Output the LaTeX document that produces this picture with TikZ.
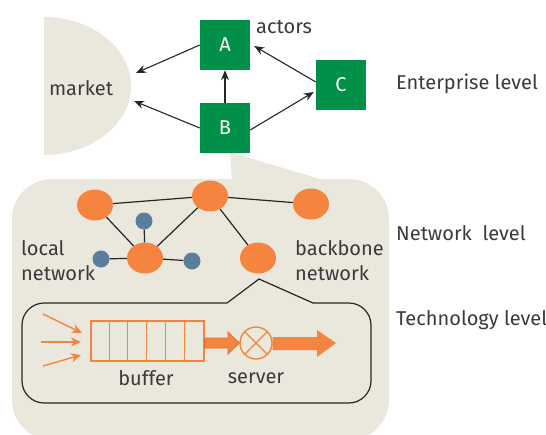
\documentclass[tikz,border=0pt]{standalone}
\usepackage{fontspec}
\setmainfont{Fira Sans}
\usetikzlibrary{arrows.meta,shapes.geometric,calc}
\definecolor{beige}{HTML}{EAE7DD}
\definecolor{entgreen}{HTML}{00904A}
\definecolor{netorange}{HTML}{F5843F}
\definecolor{darkorange}{HTML}{E0702E}
\definecolor{nodeblue}{HTML}{5B7E9C}
\definecolor{txt}{HTML}{3A3A3A}
\begin{document}
\begin{tikzpicture}[x=1pt,y=-1pt,
  font=\fontsize{20}{25}\selectfont, text=txt,
  actor/.style={fill=entgreen, minimum width=50pt, minimum height=50pt, inner sep=0pt, text=white, font=\fontsize{20}{22}\selectfont},
  link/.style={draw=black!85, line width=1.2pt},
  flow/.style={draw=black!85, line width=1.1pt, -{Stealth[length=10pt,width=8pt]}},
  bignode/.style={ellipse, fill=netorange, minimum width=36pt, minimum height=31pt, inner sep=0pt},
  smallnode/.style={circle, fill=nodeblue, minimum size=17pt, inner sep=0pt},
  lbl/.style={anchor=west, inner sep=0pt},
  inflow/.style={draw=netorange, line width=1.4pt, -{Stealth[length=10pt,width=9pt]}},
  orangeline/.style={draw=netorange, line width=1.5pt}
]
\useasboundingbox (0,0) rectangle (546,434);

% market
\fill[beige] (44,17) .. controls (92,17) and (131,48) .. (131,86)
  .. controls (131,124) and (92,155) .. (44,155) -- cycle;
\node (market) at (81,88) {market};
\coordinate (mA) at (136,73);
\coordinate (mB) at (134,101);

% network level background with callout
\fill[beige] (230,152) -- (232,182) -- (330,182) -- cycle;
\fill[beige, rounded corners=40pt] (12,179) rectangle (389,440);

% actors
\node[actor] (A) at (225,45) {A};
\node[actor] (B) at (225,128) {B};
\node[actor] (C) at (341,85) {C};
\node[lbl] (actors) at (256,27) {actors};

\draw[flow] (A.west) -- (mA);
\draw[flow] (B.west) -- (mB);
\draw[flow] (B.north) -- (A.south);
\draw[flow] ($(C.west)+(0,-3)$) -- ($(A.east)+(4,1)$);
\draw[flow] ($(B.east)+(0,2)$) -- ($(C.west)+(-2,7)$);

% levels
\node[lbl] (ent) at (396,84) {Enterprise level};
\node[lbl] (net) at (396,233) {Network\ \ level};
\node[lbl] (tech) at (396,320) {Technology level};

% network nodes
\node[bignode] (n1) at (95,205) {};
\node[bignode] (n2) at (210,196) {};
\node[bignode] (n3) at (311,204) {};
\node[bignode] (n4) at (145,258) {};
\node[bignode] (n5) at (258,258) {};
\node[smallnode] (b1) at (144,221) {};
\node[smallnode] (b2) at (101,259) {};
\node[smallnode] (b3) at (192,261) {};

\draw[link] (n1) -- (n2);
\draw[link] (n2) -- (n3);
\draw[link] (n1) -- (n4);
\draw[link] (n2) -- (n4);
\draw[link] (n2) -- (n5);
\draw[link] (b1) -- (n4);
\draw[link] (b2) -- (n4);
\draw[link] (b3) -- (n4);

\node[lbl, align=left] (local) at (21,261) {local\\network};
\node[lbl, align=left] (backbone) at (295,261) {backbone\\network};

% technology box
\coordinate (apex) at (259,279);
\draw[black!85, line width=1.2pt] (apex) -- (313,303) -- (349,303)
  .. controls (361,303) and (371,313) .. (371,325) -- (371,381)
  .. controls (371,393) and (361,403) .. (349,403) -- (44,403)
  .. controls (32,403) and (22,393) .. (22,381) -- (22,325)
  .. controls (22,313) and (32,303) .. (44,303) -- (227,303) -- cycle;

% buffer
\node[draw=netorange, line width=1.5pt, minimum width=113pt, minimum height=40pt, inner sep=0pt] (buffer) at (147.5,341) {};
\foreach \k in {1,...,5} {
  \draw[orangeline, line width=1.1pt] ($(buffer.north west)+(\k*18.83,0)$) -- ($(buffer.south west)+(\k*18.83,0)$);
}
\node (bufferlbl) at (146,378) {buffer};

% incoming arrows
\coordinate (i1) at (43,314);
\coordinate (i2) at (41,342);
\coordinate (i3) at (43,366);
\coordinate (t1) at (82,333);
\coordinate (t2) at (81,342);
\coordinate (t3) at (81,355);
\draw[inflow] (i1) -- (t1);
\draw[inflow] (i2) -- (t2);
\draw[inflow] (i3) -- (t3);

% server
\node[circle, draw=netorange, line width=1.4pt, minimum size=32pt, inner sep=0pt] (server) at (256,343) {};
\draw[orangeline, line width=1.2pt] (server.north west) -- (server.south east);
\draw[orangeline, line width=1.2pt] (server.north east) -- (server.south west);
\node (serverlbl) at (256,378) {server};

% thick arrows
\fill[netorange, draw=darkorange, line width=0.8pt] (buffer.east |- 0,338) -- (228,338) -- (228,332) -- (server.west) -- (228,354) -- (228,348) -- (buffer.east |- 0,348) -- cycle;
\fill[netorange] (server.east |- 0,337) -- (317,337) -- (317,330) -- (336,343) -- (317,357) -- (317,350) -- (server.east |- 0,350) -- cycle;
\end{tikzpicture}
\end{document}
